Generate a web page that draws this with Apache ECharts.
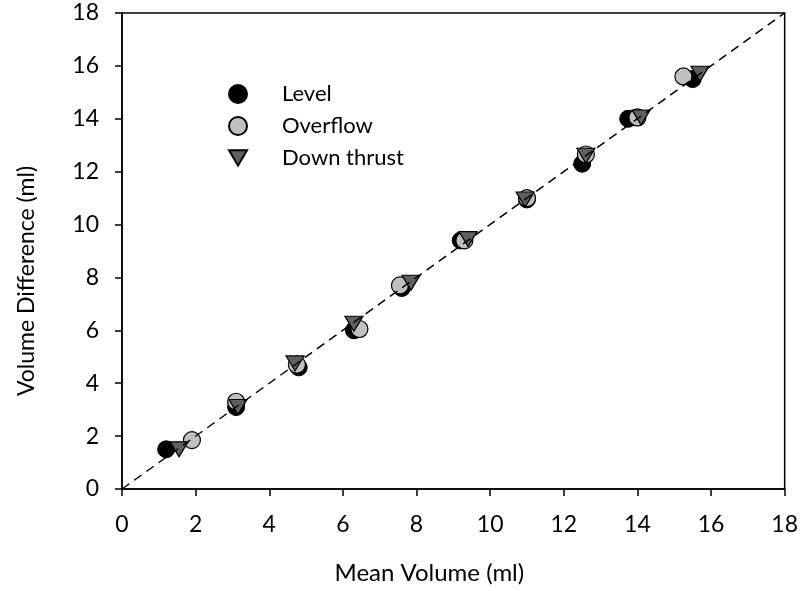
<!DOCTYPE html>
<html>
<head>
<meta charset="utf-8">
<script src="https://cdn.jsdelivr.net/npm/echarts@6/dist/echarts.min.js"></script>
<style>html,body{margin:0;padding:0;background:#fff}#c{width:801px;height:591px}</style>
</head>
<body>
<div id="c"></div>
<script>
const xTicks = [0, 2, 4, 6, 8, 10, 12, 14, 16, 18];
const yTicks = [0, 2, 4, 6, 8, 10, 12, 14, 16, 18];
const levelData = [[1.2,1.5],[3.1,3.1],[4.8,4.6],[6.3,6.0],[7.6,7.6],[9.2,9.4],[11.0,10.95],[12.5,12.3],[13.75,14.0],[15.5,15.5]];
const overflowData = [[1.9,1.85],[3.1,3.3],[4.75,4.7],[6.45,6.05],[7.55,7.7],[9.3,9.4],[11.0,11.0],[12.6,12.65],[14.0,14.05],[15.25,15.6]];
const downThrustData = [[1.55,1.5],[3.15,3.1],[4.7,4.75],[6.3,6.25],[7.85,7.8],[9.4,9.45],[10.95,10.95],[12.6,12.6],[14.1,14.05],[15.7,15.7]];
const identityLine = [[0,0],[18,18]];
const seriesNames = ['Level', 'Overflow', 'Down thrust'];

const FONT = 'Lato';
const downTri = 'path://M0,0 L20,0 L10,17 Z';
const chart = echarts.init(document.getElementById('c'), null, {renderer: 'canvas'});
chart.setOption({
  animation: false,
  backgroundColor: '#fff',
  grid: {left: 122, right: 15, top: 13, bottom: 102, show: true, borderColor: '#000', borderWidth: 1.5, containLabel: false},
  legend: {
    orient: 'vertical', left: 223, top: 78, itemWidth: 18, itemHeight: 18, itemGap: 10,
    textStyle: {fontFamily: FONT, fontSize: 22, color: '#000', padding: [0,0,0,30]},
    data: seriesNames
  },
  xAxis: {
    type: 'value', min: xTicks[0], max: xTicks[xTicks.length-1], interval: 2,
    name: 'Mean Volume (ml)', nameLocation: 'middle', nameGap: 72,
    nameTextStyle: {fontFamily: FONT, fontSize: 24, color: '#000', padding: [0, 48, 0, 0]},
    axisLine: {lineStyle: {color: '#000', width: 1.5}},
    axisTick: {inside: false, length: 7, lineStyle: {color: '#000', width: 1.5}},
    axisLabel: {fontFamily: FONT, fontSize: 23, color: '#000', margin: 24},
    splitLine: {show: false}
  },
  yAxis: {
    type: 'value', min: yTicks[0], max: yTicks[yTicks.length-1], interval: 2,
    name: 'Volume Difference (ml)', nameLocation: 'middle', nameGap: 84,
    nameTextStyle: {fontFamily: FONT, fontSize: 23, color: '#000', padding: [0, 60, 0, 0]},
    axisLine: {lineStyle: {color: '#000', width: 1.5}},
    axisTick: {inside: false, length: 7, lineStyle: {color: '#000', width: 1.5}},
    axisLabel: {fontFamily: FONT, fontSize: 23, color: '#000', margin: 23},
    splitLine: {show: false}
  },
  series: [
    {name: seriesNames[0], type: 'scatter', data: levelData, symbol: 'circle', symbolSize: 17,
     itemStyle: {color: '#000', borderColor: '#000', borderWidth: 1, opacity: 1}},
    {name: seriesNames[1], type: 'scatter', data: overflowData, symbol: 'circle', symbolSize: 17,
     itemStyle: {color: '#c0c0c0', borderColor: '#000', borderWidth: 1.2, opacity: 1}},
    {name: seriesNames[2], type: 'scatter', data: downThrustData, symbol: downTri, symbolSize: [18, 15],
     itemStyle: {color: '#606060', borderColor: '#000', borderWidth: 1.2, opacity: 1}},
    {name: 'identity', type: 'line', data: identityLine, symbol: 'none', z: 5,
     lineStyle: {color: '#000', width: 1.5, type: [9, 6]}}
  ]
});
</script>
</body>
</html>
